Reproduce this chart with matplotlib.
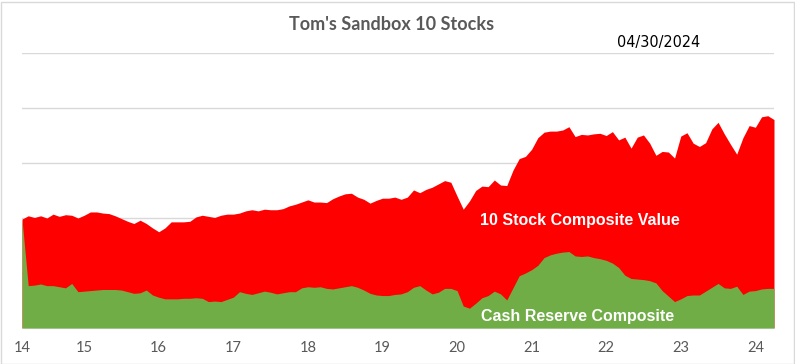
import numpy as np
import matplotlib
matplotlib.use("Agg")
import matplotlib.pyplot as plt
from matplotlib.patches import Rectangle

# monthly values, Mar 2014 .. Apr 2024 (gridline step = 100)
stock_value = [
    198, 204, 201, 204, 200, 207, 203, 206, 205, 200,
    205, 211, 211, 209, 208, 204, 199, 194, 190, 196,
    190, 182, 175, 182, 193, 193, 193, 194, 202, 205,
    203, 201, 205, 207, 207, 209, 213, 215, 213, 216,
    215, 215, 217, 222, 225, 229, 233, 229, 229, 228,
    235, 240, 244, 245, 238, 234, 227, 232, 236, 236,
    238, 234, 238, 251, 246, 252, 256, 262, 268, 265,
    240, 216, 231, 250, 258, 257, 269, 260, 259, 287,
    308, 312, 325, 346, 356, 358, 358, 360, 366, 348,
    352, 351, 353, 354, 350, 357, 342, 347, 327, 347,
    351, 336, 314, 321, 320, 309, 349, 355, 336, 330,
    337, 362, 374, 353, 334, 316, 346, 368, 365, 384,
    386, 379,
]
cash_reserve = [
    198, 77, 78, 80, 77, 77, 75, 73, 81, 66,
    67, 68, 69, 70, 70, 70, 69, 66, 63, 64,
    69, 60, 56, 53, 53, 53, 54, 54, 55, 54,
    48, 49, 48, 52, 56, 66, 63, 61, 64, 67,
    65, 62, 64, 66, 66, 73, 75, 74, 75, 72,
    71, 73, 75, 77, 74, 69, 63, 60, 59, 59,
    61, 62, 66, 74, 77, 69, 62, 65, 72, 72,
    68, 40, 36, 45, 55, 59, 67, 62, 51, 73,
    95, 100, 106, 114, 128, 133, 136, 138, 139, 131,
    130, 131, 128, 126, 123, 118, 110, 96, 90, 89,
    88, 86, 82, 68, 58, 48, 53, 59, 60, 60,
    67, 74, 81, 73, 72, 76, 61, 67, 68, 71,
    72, 72,
]
year_labels = ["14", "15", "16", "17", "18", "19", "20", "21", "22", "23", "24"]
year_index = [0, 10, 22, 34, 46, 58, 70, 82, 94, 106, 118]  # Jan of each year (first = Mar 2014)

x = np.arange(len(stock_value))

fig = plt.figure(figsize=(7.95, 3.64), dpi=100)
fig.patch.set_facecolor("white")
ax = fig.add_axes([22 / 795, 36 / 364, 752 / 795, 275 / 364])

ax.fill_between(x, 0, stock_value, color="#FF0000", linewidth=0, zorder=2)
ax.fill_between(x, 0, cash_reserve, color="#70AD47", linewidth=0, zorder=3)

ax.set_xlim(0, len(x) - 1)
ax.set_ylim(0, 500)
ax.set_yticks([100, 200, 300, 400, 500])
ax.yaxis.grid(True, color="#D9D9D9", linewidth=1)
ax.set_axisbelow(True)
ax.tick_params(axis="y", left=False, labelleft=False)
ax.set_xticks(year_index)
ax.set_xticklabels(year_labels, color="#595959", fontsize=10.5, family="Lato")
ax.tick_params(axis="x", length=0, pad=9)
for s in ["top", "left", "right"]:
    ax.spines[s].set_visible(False)
ax.spines["bottom"].set_color("#D9D9D9")

ax.text(0.742, 0.39, "10 Stock Composite Value", transform=ax.transAxes, color="white",
        fontsize=11.5, fontweight="bold", family="Liberation Sans", ha="center", va="center", zorder=5)
ax.text(0.739, 0.04, "Cash Reserve Composite", transform=ax.transAxes, color="white",
        fontsize=11.5, fontweight="bold", family="Liberation Sans", ha="center", va="center", zorder=5)

fig.text(392 / 795, 1 - 24 / 364, "Tom's Sandbox 10 Stocks", color="#595959", fontsize=13,
         fontweight="bold", family="Lato", ha="center", va="center")
fig.text(659 / 795, 1 - 42 / 364, "04/30/2024", color="black", fontsize=11.5,
         family="DejaVu Sans", fontstretch="condensed", ha="center", va="center")

fig.patches.append(Rectangle((0.5 / 795, 0.5 / 364), 793 / 795, 362 / 364, transform=fig.transFigure,
                             fill=False, edgecolor="#D9D9D9", linewidth=1))

fig.savefig("out.png", dpi=100)
